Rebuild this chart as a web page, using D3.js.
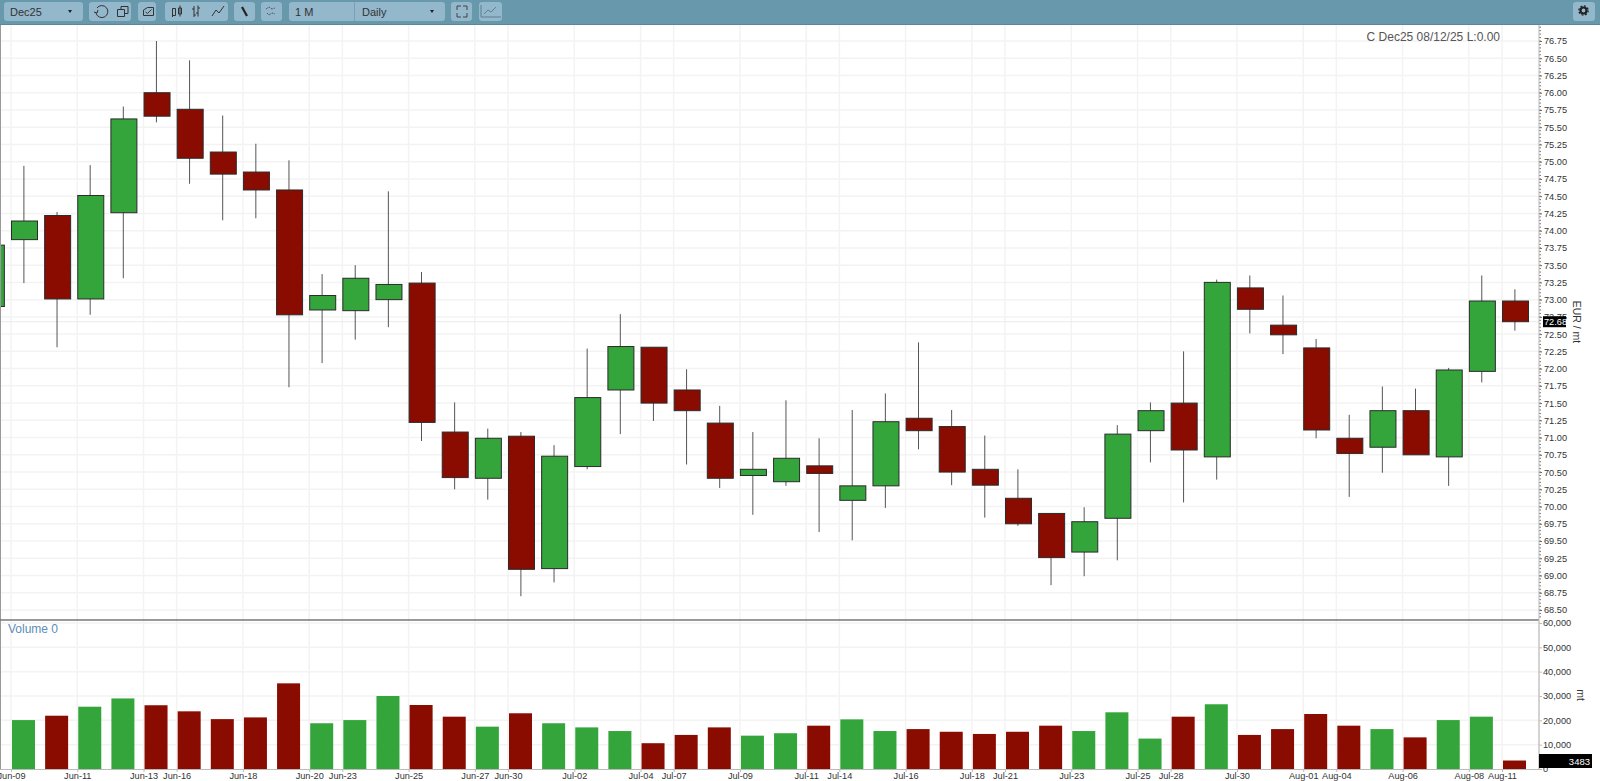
<!DOCTYPE html>
<html lang="en">
<head>
  <meta charset="UTF-8">
  <title>Dec25 daily</title>
  <script src="https://cdn.jsdelivr.net/npm/d3@7"></script>
  <style>
    html, body { margin: 0; padding: 0; background: #fff; overflow: hidden; }
    svg { display: block; font-family: "Liberation Sans", Arial, sans-serif; }
  </style>
</head>
<body>
<div id="root"></div>
<script>
  // bar dates, Jun-06 is only half visible at the left edge
  const dates = ['Jun-06',
    'Jun-09','Jun-10','Jun-11','Jun-12','Jun-13',
    'Jun-16','Jun-17','Jun-18','Jun-19','Jun-20',
    'Jun-23','Jun-24','Jun-25','Jun-26','Jun-27',
    'Jun-30','Jul-01','Jul-02','Jul-03','Jul-04',
    'Jul-07','Jul-08','Jul-09','Jul-10','Jul-11',
    'Jul-14','Jul-15','Jul-16','Jul-17','Jul-18',
    'Jul-21','Jul-22','Jul-23','Jul-24','Jul-25',
    'Jul-28','Jul-29','Jul-30','Jul-31','Aug-01',
    'Aug-04','Aug-05','Aug-06','Aug-07','Aug-08',
    'Aug-11'];
  const opens = [72.90,
    73.87,74.22,73.01,74.26,76.00,
    75.76,75.14,74.85,74.59,72.85,
    72.84,73.00,73.24,71.08,70.41,
    71.02,69.10,70.58,71.69,72.31,
    71.69,71.21,70.45,70.36,70.59,
    70.09,70.30,71.28,71.16,70.54,
    70.12,69.90,69.34,69.83,71.10,
    71.50,70.72,73.17,72.63,72.30,
    70.99,70.86,71.39,70.72,71.96,
    72.98];
  const highs = [73.85,
    74.94,74.27,74.95,75.80,76.75,
    76.47,75.67,75.26,75.02,73.37,
    73.50,74.57,73.40,71.51,71.13,
    71.08,70.89,72.29,72.79,72.31,
    71.99,71.46,71.08,71.54,70.99,
    71.40,71.64,72.38,71.40,71.03,
    70.54,69.90,69.99,71.18,71.51,
    72.25,73.29,73.35,73.06,72.43,
    71.33,71.74,71.71,72.01,73.35,
    73.15];
  const lows = [72.85,
    73.24,72.31,72.78,73.31,75.57,
    74.68,74.15,74.18,71.73,72.08,
    72.42,72.60,70.95,70.25,70.10,
    68.70,68.90,70.54,71.05,71.24,
    70.61,70.27,69.88,70.30,69.63,
    69.51,69.98,70.83,70.31,69.84,
    69.72,68.86,68.99,69.22,70.64,
    70.06,70.39,72.51,72.21,70.99,
    70.14,70.49,70.75,70.30,71.80,
    72.55];
  const closes = [73.79,
    74.14,73.01,74.51,75.62,75.66,
    75.05,74.82,74.59,72.78,73.06,
    73.31,73.22,71.22,70.42,70.99,
    69.09,70.73,71.58,72.32,71.50,
    71.39,70.41,70.54,70.70,70.48,
    70.30,71.23,71.10,70.50,70.31,
    69.75,69.26,69.78,71.05,71.39,
    70.82,73.25,72.86,72.49,71.11,
    70.77,71.39,70.75,71.98,72.98,
    72.68];
  // no volume bar for Jun-06
  const volumes = [null,
    20100,21900,25600,29000,26200,
    23700,20500,21200,35200,18800,
    20100,30000,26300,21500,17400,
    22900,18800,17100,15600,10600,
    14000,17100,13700,14700,17800,
    20400,15600,16400,15300,14400,
    15300,17800,15600,23300,12500,
    21500,26600,14000,16400,22600,
    17800,16400,13000,20100,21500,
    3483];
  const xLabels = ['Jun-09','Jun-11','Jun-13','Jun-16','Jun-18','Jun-20','Jun-23','Jun-25','Jun-27','Jun-30',
    'Jul-02','Jul-04','Jul-07','Jul-09','Jul-11','Jul-14','Jul-16','Jul-18','Jul-21','Jul-23','Jul-25',
    'Jul-28','Jul-30','Aug-01','Aug-04','Aug-06','Aug-08','Aug-11'];
  const priceTicks = [68.5,68.75,69,69.25,69.5,69.75,70,70.25,70.5,70.75,71,71.25,71.5,71.75,
    72,72.25,72.5,72.75,73,73.25,73.5,73.75,74,74.25,74.5,74.75,75,75.25,75.5,75.75,76,76.25,76.5,76.75];
  const volumeTicks = [0,10000,20000,30000,40000,50000,60000];

  const width = 1600, height = 781;
  const axisX = 1539;
  const toolbarH = 25;
  const paneBottom = 620;
  const volBottom = 769;

  const green = '#33a53b', red = '#8a0b00';
  const gridColor = '#f3f3f3';

  const svg = d3.select('#root').append('svg').attr('width', width).attr('height', height);
  svg.append('rect').attr('width', width).attr('height', height).attr('fill', '#fff');

  // scales
  const step = (1502 - 11) / 45;
  const x = d3.scalePoint().domain(dates).range([11 - step, 1502]);
  const y = d3.scaleLinear().domain([68.5, 76.75]).range([610, 41]);
  const yVol = d3.scaleLinear().domain([0, 60000]).range([volBottom, 623]);

  const candleW = 26, candleOff = 0.5, wickOff = 12.9;
  const volW = 23, volOff = 1;

  // grid
  const grid = svg.append('g').attr('stroke', gridColor).attr('stroke-width', 1.5).attr('fill', 'none');
  grid.selectAll('.gx').data(xLabels).enter().append('line')
    .attr('x1', d => x(d)).attr('x2', d => x(d))
    .attr('y1', toolbarH).attr('y2', volBottom);
  grid.selectAll('.gy').data(priceTicks).enter().append('line')
    .attr('x1', 1).attr('x2', axisX).attr('y1', d => y(d)).attr('y2', d => y(d));
  grid.selectAll('.gv').data(volumeTicks.slice(1)).enter().append('line')
    .attr('x1', 1).attr('x2', axisX).attr('y1', d => yVol(d)).attr('y2', d => yVol(d));
  // last close line
  svg.append('line').attr('x1', 1).attr('x2', axisX)
    .attr('y1', y(closes[closes.length - 1])).attr('y2', y(closes[closes.length - 1]))
    .attr('stroke', '#ebebeb').attr('stroke-width', 1);

  svg.append('clipPath').attr('id', 'plot').append('rect')
    .attr('x', 1).attr('y', toolbarH).attr('width', axisX - 1).attr('height', paneBottom - toolbarH);

  // candles
  const candles = svg.append('g').attr('clip-path', 'url(#plot)');
  candles.selectAll('line').data(dates).enter().append('line')
    .attr('x1', d => x(d) + wickOff).attr('x2', d => x(d) + wickOff)
    .attr('y1', (d, i) => y(highs[i])).attr('y2', (d, i) => y(lows[i]))
    .attr('stroke', '#555').attr('stroke-width', 1);
  candles.selectAll('rect').data(dates).enter().append('rect')
    .attr('x', d => x(d) + candleOff).attr('width', candleW)
    .attr('y', (d, i) => y(Math.max(opens[i], closes[i])))
    .attr('height', (d, i) => Math.abs(y(opens[i]) - y(closes[i])))
    .attr('fill', (d, i) => closes[i] >= opens[i] ? green : red)
    .attr('stroke', '#2b2b2b').attr('stroke-width', 1);

  // volume bars
  svg.append('g').selectAll('rect').data(dates.filter((d, i) => volumes[i] !== null)).enter().append('rect')
    .attr('x', d => x(d) + volOff).attr('width', volW)
    .attr('y', d => yVol(volumes[dates.indexOf(d)]))
    .attr('height', d => yVol(0) - yVol(volumes[dates.indexOf(d)]))
    .attr('fill', d => { const i = dates.indexOf(d); return closes[i] >= opens[i] ? green : red; });

  // frame lines
  svg.append('line').attr('x1', 0.5).attr('x2', 0.5).attr('y1', toolbarH).attr('y2', volBottom)
    .attr('stroke', '#999').attr('stroke-width', 1);
  svg.append('line').attr('x1', 0).attr('x2', axisX).attr('y1', paneBottom).attr('y2', paneBottom)
    .attr('stroke', '#777').attr('stroke-width', 1.5);

  // price axis
  const priceAxis = d3.axisRight(y).tickValues(priceTicks).tickSize(3).tickPadding(2).tickFormat(d3.format('.2f'));
  const gp = svg.append('g').attr('transform', `translate(${axisX},0)`).call(priceAxis);
  gp.select('.domain').remove();
  gp.selectAll('.tick line').attr('stroke', '#666');
  gp.selectAll('text').attr('font-size', 9.2).attr('fill', '#333').attr('font-family', 'Liberation Sans');
  // dotted axis line, small tick every 0.05
  const minor = d3.range(0, 173).map(i => 68.4 + i * 0.05);
  svg.append('g').selectAll('line').data(minor).enter().append('line')
    .attr('x1', axisX).attr('x2', axisX + 2)
    .attr('y1', d => y(d)).attr('y2', d => y(d))
    .attr('stroke', '#777').attr('stroke-width', 1);
  svg.append('line').attr('x1', axisX).attr('x2', axisX).attr('y1', toolbarH).attr('y2', paneBottom)
    .attr('stroke', '#bbb').attr('stroke-width', 1);

  // volume axis
  const volAxis = d3.axisRight(yVol).tickValues(volumeTicks).tickSize(3).tickPadding(1).tickFormat(d3.format(','));
  const gv = svg.append('g').attr('transform', `translate(${axisX},0)`).call(volAxis);
  gv.select('.domain').remove();
  gv.selectAll('.tick line').attr('stroke', '#bbb');
  gv.selectAll('text').attr('font-size', 9.2).attr('fill', '#333').attr('font-family', 'Liberation Sans');
  svg.append('line').attr('x1', axisX).attr('x2', axisX).attr('y1', paneBottom).attr('y2', volBottom)
    .attr('stroke', '#c4c4c4').attr('stroke-width', 1.5);

  // time axis, labels sit tight against the bottom of the page
  const gx = svg.append('g').attr('transform', `translate(0,${volBottom})`)
    .call(d3.axisBottom(x).tickValues(xLabels).tickSize(3).tickPadding(0));
  gx.select('.domain').attr('d', `M0,0.5H${axisX}`).attr('stroke', '#bbb').attr('stroke-width', 1);
  gx.selectAll('.tick line').attr('stroke', '#bbb');
  gx.selectAll('text').attr('font-size', 9.2).attr('fill', '#333').attr('font-family', 'Liberation Sans');

  // texts
  svg.append('text').attr('x', 1500).attr('y', 41).attr('text-anchor', 'end')
    .attr('font-size', 12).attr('fill', '#555').text('C Dec25 08/12/25 L:0.00');
  svg.append('text').attr('x', 8).attr('y', 633)
    .attr('font-size', 12).attr('fill', '#5b8db8').text('Volume 0');
  svg.append('text').attr('transform', 'translate(1573,322) rotate(90)').attr('text-anchor', 'middle')
    .attr('font-size', 10.5).attr('fill', '#333').text('EUR / mt');
  svg.append('text').attr('transform', 'translate(1577,695) rotate(90)').attr('text-anchor', 'middle')
    .attr('font-size', 10.5).attr('fill', '#333').text('mt');

  // last value tags
  const lastClose = closes[closes.length - 1];
  svg.append('rect').attr('x', 1543).attr('y', y(lastClose) - 5.5).attr('width', 23).attr('height', 11).attr('fill', '#000');
  svg.append('text').attr('x', 1544).attr('y', y(lastClose) + 3.5)
    .attr('font-size', 9.2).attr('fill', '#fff').text(d3.format('.2f')(lastClose));
  const lastVol = volumes[volumes.length - 1];
  svg.append('rect').attr('x', axisX).attr('y', 754).attr('width', 53).attr('height', 14).attr('fill', '#000');
  svg.append('text').attr('x', 1590).attr('y', 764.5).attr('text-anchor', 'end')
    .attr('font-size', 9.5).attr('fill', '#fff').text(lastVol);

  // toolbar
  const bar = svg.append('g');
  bar.append('rect').attr('width', width).attr('height', toolbarH).attr('fill', '#6798ab');
  bar.append('line').attr('x1', 0).attr('x2', width).attr('y1', toolbarH - 0.5).attr('y2', toolbarH - 0.5).attr('stroke', '#5b8799');
  const groups = [[4, 79], [89, 42], [138, 18], [165, 63], [234, 21], [261, 21], [289, 156], [451, 21], [479, 23], [1573, 22]];
  bar.selectAll('.btn').data(groups).enter().append('rect')
    .attr('x', d => d[0]).attr('y', 2).attr('width', d => d[1]).attr('height', 19).attr('rx', 3)
    .attr('fill', '#93b7cb');
  bar.append('line').attr('x1', 354.5).attr('x2', 354.5).attr('y1', 2).attr('y2', 21).attr('stroke', '#7d9fb2');
  const label = (t, px) => bar.append('text').attr('x', px).attr('y', 16)
    .attr('font-size', 11).attr('fill', '#333').text(t);
  label('Dec25', 10); label('1 M', 295); label('Daily', 362);
  // select arrows
  bar.append('path').attr('d', 'M68 10h4l-2 3zM430 10h4l-2 3z').attr('fill', '#222');

  // toolbar icons
  const icons = bar.append('g').attr('fill', 'none').attr('stroke', '#333').attr('stroke-width', 1);
  icons.append('path').attr('d', 'M97 8a6 6 0 1 1 -1 5M94 12l3 1 1 -3');
  icons.append('path').attr('d', 'M117.5 9.5h7v7h-7zM121 9.5v-3h7v7h-3.5');
  icons.append('path').attr('d', 'M143.5 10l4 -2.5h6v8h-10zM145.5 12l2 1.5 4 -4');
  icons.append('path').attr('d', 'M172.5 8.5h3v7h-3zM172.5 12v5M178.5 8h3v6h-3zM180 5.5v11M172.5 12');
  icons.append('path').attr('d', 'M194 6v11M192 9h2M194 15h2M198 5.5v11M196 13h2M198 8h2');
  icons.append('path').attr('d', 'M212 16l4 -6 3 3 5 -7');
  bar.append('path').attr('d', 'M242 7l5 9').attr('stroke', '#222').attr('stroke-width', 2.2);
  icons.append('path').attr('d', 'M266 9l3 -2 3 2 3 -1M267 13l2 2 3 -2 3 1').attr('stroke', '#556').attr('stroke-dasharray', '2 1');
  icons.append('path').attr('d', 'M457 6h4M457 6v4M467 6h-4M467 6v4M457 17h4M457 17v-4M467 17h-4M467 17v-4').attr('stroke', '#444');
  icons.append('path').attr('d', 'M481 5v12h20M484 14l4 -4 3 2 5 -5').attr('stroke', '#5d7f92');
  bar.append('circle').attr('cx', 1583.5).attr('cy', 10.5).attr('r', 3).attr('fill', 'none').attr('stroke', '#222').attr('stroke-width', 2.2);
  bar.append('circle').attr('cx', 1583.5).attr('cy', 10.5).attr('r', 4.6).attr('fill', 'none').attr('stroke', '#222').attr('stroke-width', 1.4).attr('stroke-dasharray', '1.8 1.8');
</script>
</body>
</html>
